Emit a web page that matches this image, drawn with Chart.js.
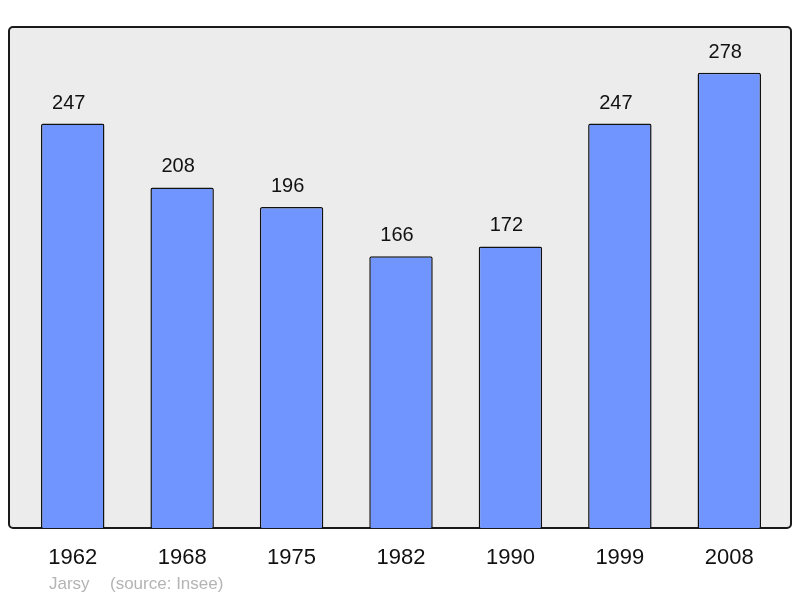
<!DOCTYPE html>
<html>
<head>
<meta charset="UTF-8">
<title>Population</title>
<script src="https://cdn.jsdelivr.net/npm/chart.js"></script>
<style>
  html, body { margin: 0; padding: 0; background: #fff; }
  #wrap { width: 800px; height: 598px; }
</style>
</head>
<body>
<div id="wrap"><canvas id="popChart" width="800" height="598"></canvas></div>
<script>
const years = ['1962', '1968', '1975', '1982', '1990', '1999', '2008'];
const population = [247, 208, 196, 166, 172, 247, 278];
const yMax = 306;

// grey frame behind the bars, a bit wider than the category area
const framePlugin = {
  id: 'frame',
  beforeDraw(chart) {
    const { ctx, chartArea: a } = chart;
    const x0 = a.left - 9, x1 = a.right + 7, y0 = a.top, y1 = a.bottom;
    ctx.save();
    ctx.beginPath();
    ctx.roundRect(x0, y0, x1 - x0, y1 - y0, 4);
    ctx.fillStyle = '#ececec';
    ctx.fill();
    ctx.lineWidth = 2;
    ctx.strokeStyle = '#1a1a1a';
    ctx.stroke();
    ctx.restore();
  },
  afterDraw(chart) {
    const { ctx } = chart;
    ctx.save();
    ctx.font = '17px "Liberation Sans", Arial, sans-serif';
    ctx.fillStyle = '#b4b4b4';
    ctx.textBaseline = 'alphabetic';
    ctx.fillText('Jarsy', 49, 589);
    ctx.fillText('(source: Insee)', 110, 589);
    ctx.restore();
  }
};

// value over each bar
const valueLabels = {
  id: 'valueLabels',
  afterDatasetsDraw(chart) {
    const { ctx } = chart;
    const meta = chart.getDatasetMeta(0);
    ctx.save();
    ctx.font = '20px "Liberation Sans", Arial, sans-serif';
    ctx.fillStyle = '#111';
    ctx.textAlign = 'center';
    ctx.textBaseline = 'alphabetic';
    meta.data.forEach((bar, i) => {
      ctx.fillText(String(population[i]), bar.x - 4, bar.y - 15);
    });
    ctx.restore();
  }
};

new Chart(document.getElementById('popChart'), {
  type: 'bar',
  data: {
    labels: years,
    datasets: [{
      data: population,
      backgroundColor: '#7095ff',
      borderColor: '#111',
      borderWidth: 1.5,
      borderRadius: 2,
      borderSkipped: 'bottom',
      categoryPercentage: 0.58,
      barPercentage: 1
    }]
  },
  options: {
    responsive: false,
    animation: false,
    layout: { padding: { left: 18, right: 16, top: 27, bottom: 0 } },
    plugins: {
      legend: { display: false },
      tooltip: { enabled: false },
      title: { display: false }
    },
    scales: {
      x: {
        grid: { display: false, drawTicks: false },
        border: { display: false },
        ticks: {
          color: '#111',
          padding: 17,
          font: { family: '"Liberation Sans", Arial, sans-serif', size: 22 }
        },
        afterFit(scale) { scale.height = 70; }
      },
      y: {
        display: false,
        min: 0,
        max: yMax
      }
    }
  },
  plugins: [framePlugin, valueLabels]
});
</script>
</body>
</html>
